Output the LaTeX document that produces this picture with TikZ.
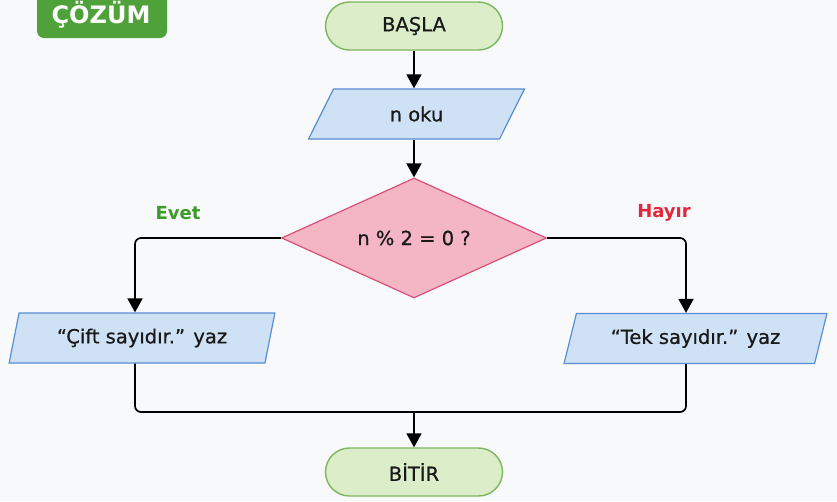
\documentclass[tikz,border=0pt]{standalone}
\usepackage{fontspec}
\setmainfont{DejaVu Sans}
\newfontfamily\bodyfont[FakeBold=0.6]{DejaVu Sans}
\usetikzlibrary{shapes.geometric,arrows.meta,calc}
\definecolor{bg}{HTML}{F8F9FA}
\definecolor{termfill}{HTML}{DCEDCA}
\definecolor{termdraw}{HTML}{7DB65E}
\definecolor{iofill}{HTML}{CFE1F5}
\definecolor{iodraw}{HTML}{5A8ED3}
\definecolor{decfill}{HTML}{F4B5C5}
\definecolor{decdraw}{HTML}{D9507A}
\definecolor{badge}{HTML}{4FA23A}
\definecolor{yes}{HTML}{3A9A2A}
\definecolor{no}{HTML}{E0283C}
\tikzset{
  x=1pt, y=-1pt,
  every node/.style={font=\bodyfont\fontsize{19.5}{22}\selectfont, text=black!90},
  term/.style={draw=termdraw, fill=termfill, line width=1.4pt, rounded corners=24pt,
    minimum width=177pt, minimum height=48pt, inner sep=0pt},
  io/.style={trapezium, trapezium stretches=true, draw=iodraw, fill=iofill, line width=1.2pt,
    minimum height=50pt, inner sep=0pt},
  dec/.style={diamond, aspect=2.2, draw=decdraw, fill=decfill, line width=1.2pt,
    minimum width=265pt, minimum height=120pt, inner sep=0pt},
  conn/.style={line width=1.7pt, black, rounded corners=6pt},
  arr/.style={conn, -{Triangle[length=14pt,width=15pt]}},
  lbl/.style={font=\fontsize{18}{20}\selectfont\bfseries},
}
\begin{document}
\begin{tikzpicture}
\fill[bg] (0,0) rectangle (837,501);
\useasboundingbox (0,0) rectangle (837,501);
% badge
\fill[badge, rounded corners=7pt] (37,-12) rectangle (167,38);
\node[font=\fontsize{24}{26}\selectfont\bfseries, text=white] (badge) at (101,15) {ÇÖZÜM};
% nodes
\node[term] (start) at (414,26) {BAŞLA};
\node[io, trapezium left angle=62, trapezium right angle=118, minimum width=217pt] (read) at (416.5,114) {n oku};
\node[dec] (cond) at (414,238) {n \% 2 = 0 ?};
\node[io, trapezium left angle=70, trapezium right angle=110, minimum width=266pt] (even) at (142,338) {“Çift sayıdır.” yaz};
\node[io, trapezium left angle=65, trapezium right angle=115, minimum width=263pt] (odd) at (695.5,338.5) {“Tek sayıdır.” yaz};
\node[term] (stop) at (414,472) {BİTİR};
\coordinate (join) at (414,412);
% labels
\node[lbl, text=yes] (evet) at (178,213) {Evet};
\node[lbl, text=no] (hayir) at (664,213) {Hayır};
% connectors
\draw[arr] (start.south) -- (start.south |- read.north);
\draw[arr] (start.south |- read.south) -- (cond.north);
\draw[arr] (cond.west) -| ([xshift=-7pt]even.north);
\draw[arr] (cond.east) -| ([xshift=-9.5pt]odd.north);
\draw[conn] ([xshift=-7pt]even.south) |- (join);
\draw[conn] ([xshift=-9.5pt]odd.south) |- (join);
\draw[arr] (join) -- (stop.north);
\end{tikzpicture}
\end{document}
